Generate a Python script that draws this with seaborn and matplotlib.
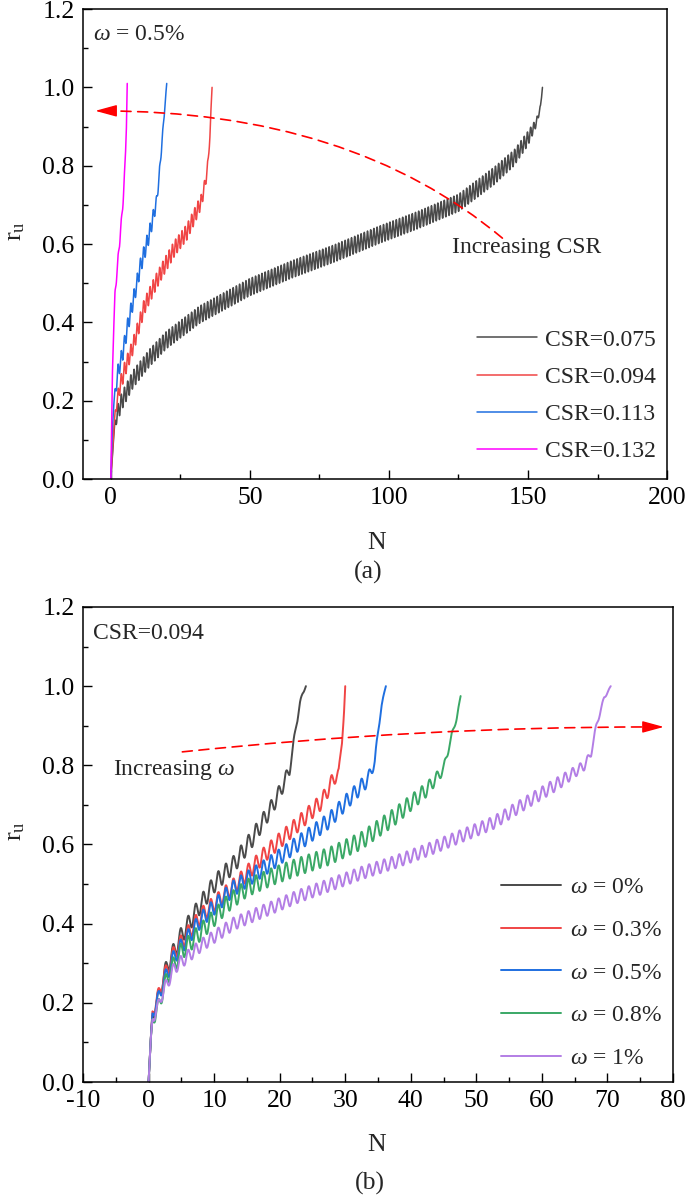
import numpy as np
import pandas as pd
import matplotlib
matplotlib.use("Agg")
import matplotlib.pyplot as plt
import seaborn as sns

# ---------------- data ----------------
# Panel (a): omega = 0.5 %, trend points (N, r_u) and oscillation half-amplitude
a_labels = ["CSR=0.075", "CSR=0.094", "CSR=0.113", "CSR=0.132"]
a_colors = ["#4a4a4a", "#f04545", "#1f6fe0", "#ff00ff"]

a075_N = [0, 0.5, 1, 2, 4, 8, 14, 20, 32, 50, 65, 80, 97, 110, 125, 138, 145, 150, 153, 154.5, 155.2]
a075_r = [0, 0.05, 0.11, 0.16, 0.20, 0.255, 0.31, 0.355, 0.42, 0.49, 0.535, 0.575, 0.625, 0.66, 0.705, 0.775, 0.82, 0.87, 0.91, 0.95, 1.0]
a075_A = [0, 0.0, 0.01, 0.02, 0.022, 0.022, 0.022, 0.022, 0.022, 0.022, 0.022, 0.022, 0.022, 0.022, 0.022, 0.022, 0.02, 0.018, 0.01, 0.005, 0]

a094_N = [0, 1, 1.6, 3, 5, 8, 12, 16, 19, 23, 27.3, 30, 32.6, 34.3, 35, 35.6, 36, 36.4]
a094_r = [0, 0.12, 0.17, 0.23, 0.28, 0.34, 0.44, 0.50, 0.54, 0.59, 0.63, 0.67, 0.71, 0.77, 0.815, 0.87, 0.94, 1.0]
a094_A = [0, 0.0, 0.01, 0.02, 0.02, 0.02, 0.02, 0.02, 0.02, 0.02, 0.02, 0.02, 0.018, 0.012, 0.008, 0.005, 0.003, 0]

a113_N = [0, 0.5, 1, 2.5, 4.5, 6.3, 8.5, 10.5, 12.5, 14, 16.5, 17.7, 18.5, 19.3, 20.1]
a113_r = [0, 0.12, 0.19, 0.27, 0.33, 0.40, 0.47, 0.54, 0.59, 0.63, 0.71, 0.80, 0.87, 0.94, 1.01]
a113_A = [0, 0.0, 0.01, 0.02, 0.02, 0.02, 0.02, 0.02, 0.02, 0.02, 0.015, 0.01, 0.008, 0.005, 0]

a132_N = [0, 0.3, 0.6, 1.0, 1.5, 2.2, 2.7, 3.6, 4.5, 5.1, 5.6, 5.9]
a132_r = [0, 0.15, 0.28, 0.38, 0.47, 0.53, 0.57, 0.64, 0.72, 0.80, 0.90, 1.01]
a132_A = [0, 0.0, 0.005, 0.01, 0.01, 0.01, 0.01, 0.01, 0.01, 0.008, 0.004, 0]

# Panel (b): CSR = 0.094
b_labels = [r"$\omega$ = 0%", r"$\omega$ = 0.3%", r"$\omega$ = 0.5%", r"$\omega$ = 0.8%", r"$\omega$ = 1%"]
b_colors = ["#4a4a4a", "#f04545", "#1f6fe0", "#3aa866", "#b37ee5"]

b0_N = [0, 0.3, 0.6, 1, 2, 3, 5, 8, 10, 13, 16, 19, 20.5, 21.5, 22, 22.5, 23, 23.5, 24]
b0_r = [0, 0.10, 0.17, 0.18, 0.25, 0.30, 0.37, 0.45, 0.50, 0.55, 0.62, 0.70, 0.75, 0.79, 0.84, 0.90, 0.95, 0.98, 1.0]
b0_A = [0, 0.0, 0.01, 0.015, 0.022, 0.022, 0.022, 0.022, 0.022, 0.022, 0.022, 0.02, 0.018, 0.015, 0.01, 0.01, 0.008, 0.004, 0]

b3_N = [0, 0.3, 0.6, 1, 2, 4, 8, 14, 18, 23, 26.5, 28, 29, 29.5, 29.8, 30]
b3_r = [0, 0.10, 0.18, 0.19, 0.25, 0.33, 0.42, 0.51, 0.58, 0.655, 0.71, 0.76, 0.78, 0.86, 0.93, 1.0]
b3_A = [0, 0.0, 0.01, 0.015, 0.02, 0.02, 0.02, 0.02, 0.02, 0.02, 0.02, 0.018, 0.012, 0.006, 0.003, 0]

b5_N = [0, 0.3, 0.6, 1, 2, 4, 8, 13, 18, 23, 27.5, 30, 33.5, 34.5, 35, 35.5, 36.2]
b5_r = [0, 0.10, 0.175, 0.185, 0.24, 0.32, 0.41, 0.49, 0.545, 0.605, 0.66, 0.705, 0.765, 0.81, 0.88, 0.95, 1.0]
b5_A = [0, 0.0, 0.01, 0.015, 0.02, 0.02, 0.02, 0.02, 0.02, 0.02, 0.02, 0.02, 0.018, 0.012, 0.008, 0.005, 0]

b8_N = [0, 0.3, 0.6, 1, 2, 3, 5, 8, 12, 15, 19, 23, 27.5, 32.5, 37.5, 42.5, 45, 46, 47, 47.6]
b8_r = [0, 0.10, 0.16, 0.165, 0.22, 0.27, 0.33, 0.38, 0.45, 0.49, 0.52, 0.545, 0.57, 0.61, 0.67, 0.74, 0.79, 0.86, 0.92, 0.975]
b8_A = [0, 0.0, 0.01, 0.015, 0.02, 0.022, 0.022, 0.022, 0.022, 0.022, 0.022, 0.022, 0.022, 0.022, 0.022, 0.018, 0.012, 0.008, 0.005, 0]

b10_N = [0, 0.3, 0.6, 1, 2, 4, 8, 13, 18, 23, 28, 32.5, 37.5, 42.5, 47.5, 52.5, 57.5, 62.5, 66.5, 67.5, 68.3, 69.5, 70.5]
b10_r = [0, 0.10, 0.16, 0.17, 0.22, 0.29, 0.345, 0.40, 0.435, 0.47, 0.50, 0.528, 0.555, 0.586, 0.62, 0.654, 0.705, 0.755, 0.80, 0.83, 0.90, 0.97, 1.0]
b10_A = [0, 0.0, 0.01, 0.012, 0.016, 0.016, 0.016, 0.016, 0.016, 0.016, 0.016, 0.016, 0.016, 0.016, 0.016, 0.016, 0.016, 0.016, 0.012, 0.008, 0.006, 0.005, 0]

CYCLE = 1.15  # apparent oscillation period (in N) read from the wiggles

a_series = [(a075_N, a075_r, a075_A), (a094_N, a094_r, a094_A), (a113_N, a113_r, a113_A), (a132_N, a132_r, a132_A)]
b_series = [(b0_N, b0_r, b0_A), (b3_N, b3_r, b3_A), (b5_N, b5_r, b5_A), (b8_N, b8_r, b8_A), (b10_N, b10_r, b10_A)]


def build_frame(series, labels):
    frames = []
    for (Nk, rk, Ak), lab in zip(series, labels):
        n = np.arange(0, Nk[-1], 0.02)
        n = np.append(n, Nk[-1])
        trend = np.interp(n, Nk, rk)
        amp = np.interp(n, Nk, Ak)
        r = trend + amp * np.sin(2 * np.pi * n / CYCLE)
        frames.append(pd.DataFrame({"N": n, "ru": r, "curve": lab}))
    return pd.concat(frames, ignore_index=True)


df_a = build_frame(a_series, a_labels)
df_b = build_frame(b_series, b_labels)

# ---------------- style ----------------
sns.set_theme(style="ticks")
plt.rcParams.update({
    "font.family": ["Liberation Serif", "DejaVu Serif"],
    "mathtext.fontset": "custom",
    "mathtext.rm": "Liberation Serif",
    "mathtext.it": "Liberation Serif:italic",
    "axes.edgecolor": "black",
    "axes.linewidth": 1.1,
    "axes.unicode_minus": False,
})

fig = plt.figure(figsize=(6.85, 11.95), dpi=100)
axA = fig.add_axes([0.1212, 0.59916, 0.8526, 0.3933])
axB = fig.add_axes([0.1212, 0.09456, 0.8613, 0.3975])

for ax, df, labels, colors, lw in [(axA, df_a, a_labels, a_colors, 1.1),
                                   (axB, df_b, b_labels, b_colors, 1.4)]:
    sns.lineplot(data=df, x="N", y="ru", hue="curve", hue_order=labels,
                 palette=colors, sort=False, estimator=None, lw=lw, ax=ax)

for ax in (axA, axB):
    ax.set_ylim(0, 1.2)
    ax.set_yticks(np.arange(0, 1.21, 0.2))
    ax.set_yticklabels([f"{v:.1f}" for v in np.arange(0, 1.21, 0.2)])
    ax.set_yticks(np.arange(0.1, 1.2, 0.2), minor=True)
    ax.tick_params(which="both", direction="in", left=True, bottom=True,
                   top=False, right=False, width=1.0, colors="black")
    ax.tick_params(which="major", length=6.5, labelsize=18.5)
    ax.tick_params(axis="x", which="major", pad=6)
    ax.tick_params(axis="y", which="major", pad=6)
    ax.tick_params(which="minor", length=3.5)
    for s in ax.spines.values():
        s.set_visible(True)
        s.set_linewidth(1.1)
        s.set_color("black")
    ax.set_ylabel(r"r$_\mathrm{u}$", fontsize=19)
    ax.yaxis.label.set_va("center")
    ax.set_xlabel("N", fontsize=18.5)
    ax.xaxis.label.set_va("center")

axA.yaxis.set_label_coords(-0.115, 0.528)
axB.yaxis.set_label_coords(-0.114, 0.528)

axA.set_xlim(-10, 200)
axA.set_xticks([0, 50, 100, 150, 200])
axA.set_xticks([25, 75, 125, 175], minor=True)
axA.xaxis.set_label_coords(0.503, -0.136)

axB.set_xlim(-10, 80)
axB.set_xticks(np.arange(-10, 81, 10))
axB.set_xticks(np.arange(-5, 80, 10), minor=True)
axB.xaxis.set_label_coords(0.498, -0.1326)

# legends
axA.legend(frameon=False, loc="lower right", bbox_to_anchor=(0.981, 0.036),
           borderaxespad=0, borderpad=0, fontsize=17, handlelength=2.55,
           handletextpad=0.35, labelspacing=0.66)
axB.legend(frameon=False, loc="lower right", bbox_to_anchor=(0.981, 0.027),
           borderaxespad=0, borderpad=0, fontsize=17, handlelength=2.55,
           handletextpad=0.35, labelspacing=0.90)

# annotations
axA.text(0.017, 0.945, r"$\omega$ = 0.5%", transform=axA.transAxes,
         fontsize=17, ha="left", va="center")
axA.text(122.7, 0.592, "Increasing CSR", fontsize=17, ha="left", va="center")
axA.text(0.488, -0.198, "(a)", transform=axA.transAxes, fontsize=18.5,
         ha="center", va="center")

axB.text(0.017, 0.945, "CSR=0.094", transform=axB.transAxes,
         fontsize=17, ha="left", va="center")
axB.text(-5.4, 0.788, r"Increasing $\omega$", fontsize=17, ha="left", va="center")
axB.text(0.486, -0.2126, "(b)", transform=axB.transAxes, fontsize=18.5,
         ha="center", va="center")

dash = (0, (6, 4))
axA.annotate("", xy=(-3.5, 0.94), xytext=(140.8, 0.615),
             arrowprops=dict(arrowstyle="-", color="red", lw=1.2, linestyle=dash,
                             connectionstyle="angle3,angleA=140,angleB=0",
                             shrinkA=0, shrinkB=0))
axA.annotate("", xy=(-5.6, 0.94), xytext=(-0.5, 0.94),
             arrowprops=dict(arrowstyle="-|>,head_length=1.1,head_width=0.3",
                             color="red", lw=1.0, shrinkA=0, shrinkB=0))

axB.annotate("", xy=(76.5, 0.897), xytext=(5.15, 0.834),
             arrowprops=dict(arrowstyle="-", color="red", lw=1.2, linestyle=dash,
                             connectionstyle="angle3,angleA=6,angleB=0",
                             shrinkA=0, shrinkB=0))
axB.annotate("", xy=(78.6, 0.897), xytext=(75.5, 0.897),
             arrowprops=dict(arrowstyle="-|>,head_length=1.1,head_width=0.3",
                             color="red", lw=1.0, shrinkA=0, shrinkB=0))

fig.savefig("out.png", dpi=100, facecolor="white")
